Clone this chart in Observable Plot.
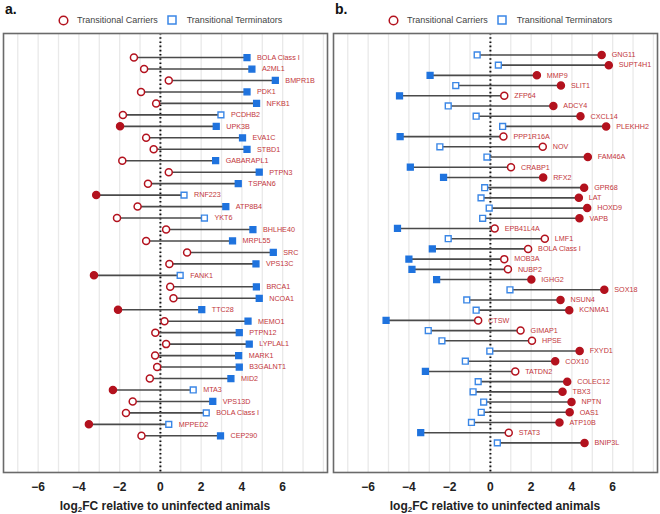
<!DOCTYPE html>
<html>
<head>
<meta charset="utf-8">
<script src="https://cdn.jsdelivr.net/npm/d3@7"></script>
<script src="https://cdn.jsdelivr.net/npm/@observablehq/plot@0.6"></script>
<style>
  html, body { margin: 0; padding: 0; background: #fff; }
  body { width: 660px; height: 514px; overflow: hidden; font-family: "Liberation Sans", Arial, sans-serif; }
  #wrap { display: flex; }
  .panel { width: 330px; position: relative; }
  .head { position: relative; height: 28px; }
  .plabel { position: absolute; left: 5px; top: 1px; font-size: 14px; font-weight: bold; color: #111; }
  .legend { position: absolute; left: 58px; top: 14px; height: 12px; display: flex; align-items: center; font-size: 9px; color: #444; white-space: nowrap; }
  .legend svg { display: block; }
  .xtitle { text-align: center; font-weight: bold; font-size: 12px; color: #222; height: 20px; line-height: 20px; padding-top: 2px; }
  .xtitle sub { font-size: 8px; vertical-align: -2px; line-height: 0; }
</style>
</head>
<body>
<div id="wrap"></div>
<script>
// ---------- Panel a data ----------
const genesA = ["BOLA Class I","A2ML1","BMPR1B","PDK1","NFKB1","PCDHB2","UPK3B","EVA1C","STBD1","GABARAPL1","PTPN3","TSPAN6","RNF223","ATP8B4","YKT6","BHLHE40","MRPL55","SRC","VPS13C","FANK1","BRCA1","NCOA1","TTC28","MEMO1","PTPN12","LYPLAL1","MARK1","B3GALNT1","MID2","MTA3","VPS13D","BOLA Class I","MPPED2","CEP290"];
const carriersA = [-1.30,-0.80,0.41,-0.95,-0.21,-1.84,-1.98,-0.70,-0.33,-1.87,0.41,-0.61,-3.15,-1.12,-2.13,0.28,-0.70,1.31,0.44,-3.26,0.48,0.64,-2.08,0.20,-0.25,0.28,-0.26,-0.16,-0.52,-2.33,-1.36,-1.69,-3.51,-0.93];
const terminatorsA = [4.25,4.49,5.64,4.25,4.72,2.97,2.74,4.03,4.25,2.71,4.85,3.82,1.16,3.21,2.16,4.54,3.54,5.54,4.69,0.97,4.71,4.85,2.03,4.30,3.87,4.36,3.84,3.87,3.46,1.61,2.57,2.25,0.41,2.95];
const carriersSigA = [0,0,0,0,0,0,1,0,0,0,0,0,1,0,0,0,0,0,0,1,0,0,1,0,0,0,0,0,0,1,0,0,1,0];
const terminatorsSigA = [1,1,1,1,1,0,1,1,1,1,1,1,0,1,0,1,1,1,1,0,1,1,1,1,1,1,1,1,1,0,1,0,0,1];

// ---------- Panel b data ----------
const genesB = ["GNG11","SUPT4H1","MMP9","SLIT1","ZFP64","ADCY4","CXCL14","PLEKHH2","PPP1R16A","NOV","FAM46A","CRABP1","RFX2","GPR68","LAT","HOXD9","VAPB","EPB41L4A","LMF1","BOLA Class I","MOB3A","NUBP2","IGHG2","SOX18","NSUN4","KCNMA1","CTSW","GIMAP1","HPSE","FXYD1","COX10","TATDN2","COLEC12","TBX3","NPTN","OAS1","ATP10B","STAT3","BNIP3L"];
const carriersB = [5.46,5.81,2.28,3.46,0.68,3.09,4.42,5.68,0.64,2.57,4.78,1.01,2.59,4.60,4.34,4.75,4.37,0.21,2.67,1.85,0.68,0.86,2.01,5.59,3.44,3.87,-0.60,1.48,2.04,4.38,3.18,1.22,3.77,3.54,3.98,3.89,3.39,0.90,4.62];
const terminatorsB = [-0.65,0.39,-2.96,-1.70,-4.46,-2.07,-0.70,0.60,-4.43,-2.48,-0.17,-3.93,-2.30,-0.28,-0.46,-0.06,-0.38,-4.56,-2.07,-2.85,-4.00,-3.85,-2.64,0.96,-1.16,-0.70,-5.12,-3.05,-2.38,-0.03,-1.23,-3.19,-0.60,-0.85,-0.33,-0.45,-0.93,-3.42,0.34];
const carriersSigB = [1,1,1,1,0,1,1,1,0,0,1,0,1,1,1,1,1,0,0,0,0,0,1,1,1,1,0,0,0,1,1,0,1,1,1,1,1,0,1];
const terminatorsSigB = [0,0,1,0,1,0,0,0,1,0,0,1,1,0,0,0,0,1,0,1,1,1,1,0,0,0,1,0,0,0,0,1,0,0,0,0,0,1,0];

const xTicks = [-6,-4,-2,0,2,4,6];
const legendLabels = ["Transitional Carriers","Transitional Terminators"];
const axisTitleHTML = "log<sub>2</sub>FC relative to uninfected animals";

const RED = "#b3121e", RED_TXT = "#c2363b", BLUE = "#1f73de", BLUE_OPEN = "#3b87e6";

function makeLegend() {
  const lg = document.createElement("div");
  lg.className = "legend";
  lg.innerHTML =
    `<svg width="11" height="11"><circle cx="5.5" cy="5.5" r="4.3" fill="white" stroke="${RED}" stroke-width="1.5"/></svg>` +
    `<span style="margin-left:8px">${legendLabels[0]}</span>` +
    `<svg width="10" height="10" style="margin-left:9px"><rect x="1" y="1" width="8" height="8" fill="white" stroke="${BLUE_OPEN}" stroke-width="1.5"/></svg>` +
    `<span style="margin-left:10px">${legendLabels[1]}</span>`;
  return lg;
}

function makePanel(label, genes, car, ter, carSig, terSig, yDomain) {
  const rows = genes.map((g, i) => ({
    g, i: i + 1, c: car[i], t: ter[i], cs: carSig[i], ts: terSig[i], lx: Math.max(car[i], ter[i])
  }));
  const panel = document.createElement("div");
  panel.className = "panel";
  const head = document.createElement("div");
  head.className = "head";
  const pl = document.createElement("div");
  pl.className = "plabel";
  pl.textContent = label;
  head.appendChild(pl);
  head.appendChild(makeLegend());
  panel.appendChild(head);

  const chart = Plot.plot({
    width: 330,
    height: 466,
    marginTop: 5,
    marginBottom: 22,
    marginLeft: 3,
    marginRight: 3,
    style: { fontFamily: "'Liberation Sans', Arial, sans-serif", background: "white" },
    x: { domain: [-7.7, 8.2] },
    y: { domain: yDomain, reverse: true, axis: null },
    marks: [
      Plot.gridX(d3.range(-7, 9), { stroke: "#e9e9e9", strokeOpacity: 1, strokeWidth: 1.3 }),
      Plot.ruleX([0], { stroke: "#111", strokeWidth: 2, strokeDasharray: "1.6,2.6" }),
      Plot.link(rows, { x1: "c", x2: "t", y1: "i", y2: "i", stroke: "#4a4a4a", strokeWidth: 1.6 }),
      Plot.dot(rows, { x: "c", y: "i", r: 3.5, stroke: RED, strokeWidth: 1.5, fill: d => d.cs ? RED : "white" }),
      Plot.dot(rows, { x: "t", y: "i", symbol: "square", r: 3.3, stroke: d => d.ts ? BLUE : BLUE_OPEN, strokeWidth: 1.4, fill: d => d.ts ? BLUE : "white" }),
      Plot.text(rows, { x: "lx", y: "i", text: "g", dx: 10, textAnchor: "start", fill: RED_TXT, fontSize: 7.2 }),
      Plot.frame({ stroke: "#6a6a6a", strokeWidth: 1.6 }),
      Plot.axisX({ ticks: xTicks, tickSize: 0, tickPadding: 10, fontSize: 12, fontWeight: "bold", label: null, fill: "#222" })
    ]
  });
  panel.appendChild(chart);
  const xt = document.createElement("div");
  xt.className = "xtitle";
  xt.innerHTML = axisTitleHTML;
  panel.appendChild(xt);
  return panel;
}

const wrap = document.getElementById("wrap");
wrap.appendChild(makePanel("a.", genesA, carriersA, terminatorsA, carriersSigA, terminatorsSigA, [-1.1, 37.2]));
wrap.appendChild(makePanel("b.", genesB, carriersB, terminatorsB, carriersSigB, terminatorsSigB, [-1.1, 41.9]));
</script>
</body>
</html>
